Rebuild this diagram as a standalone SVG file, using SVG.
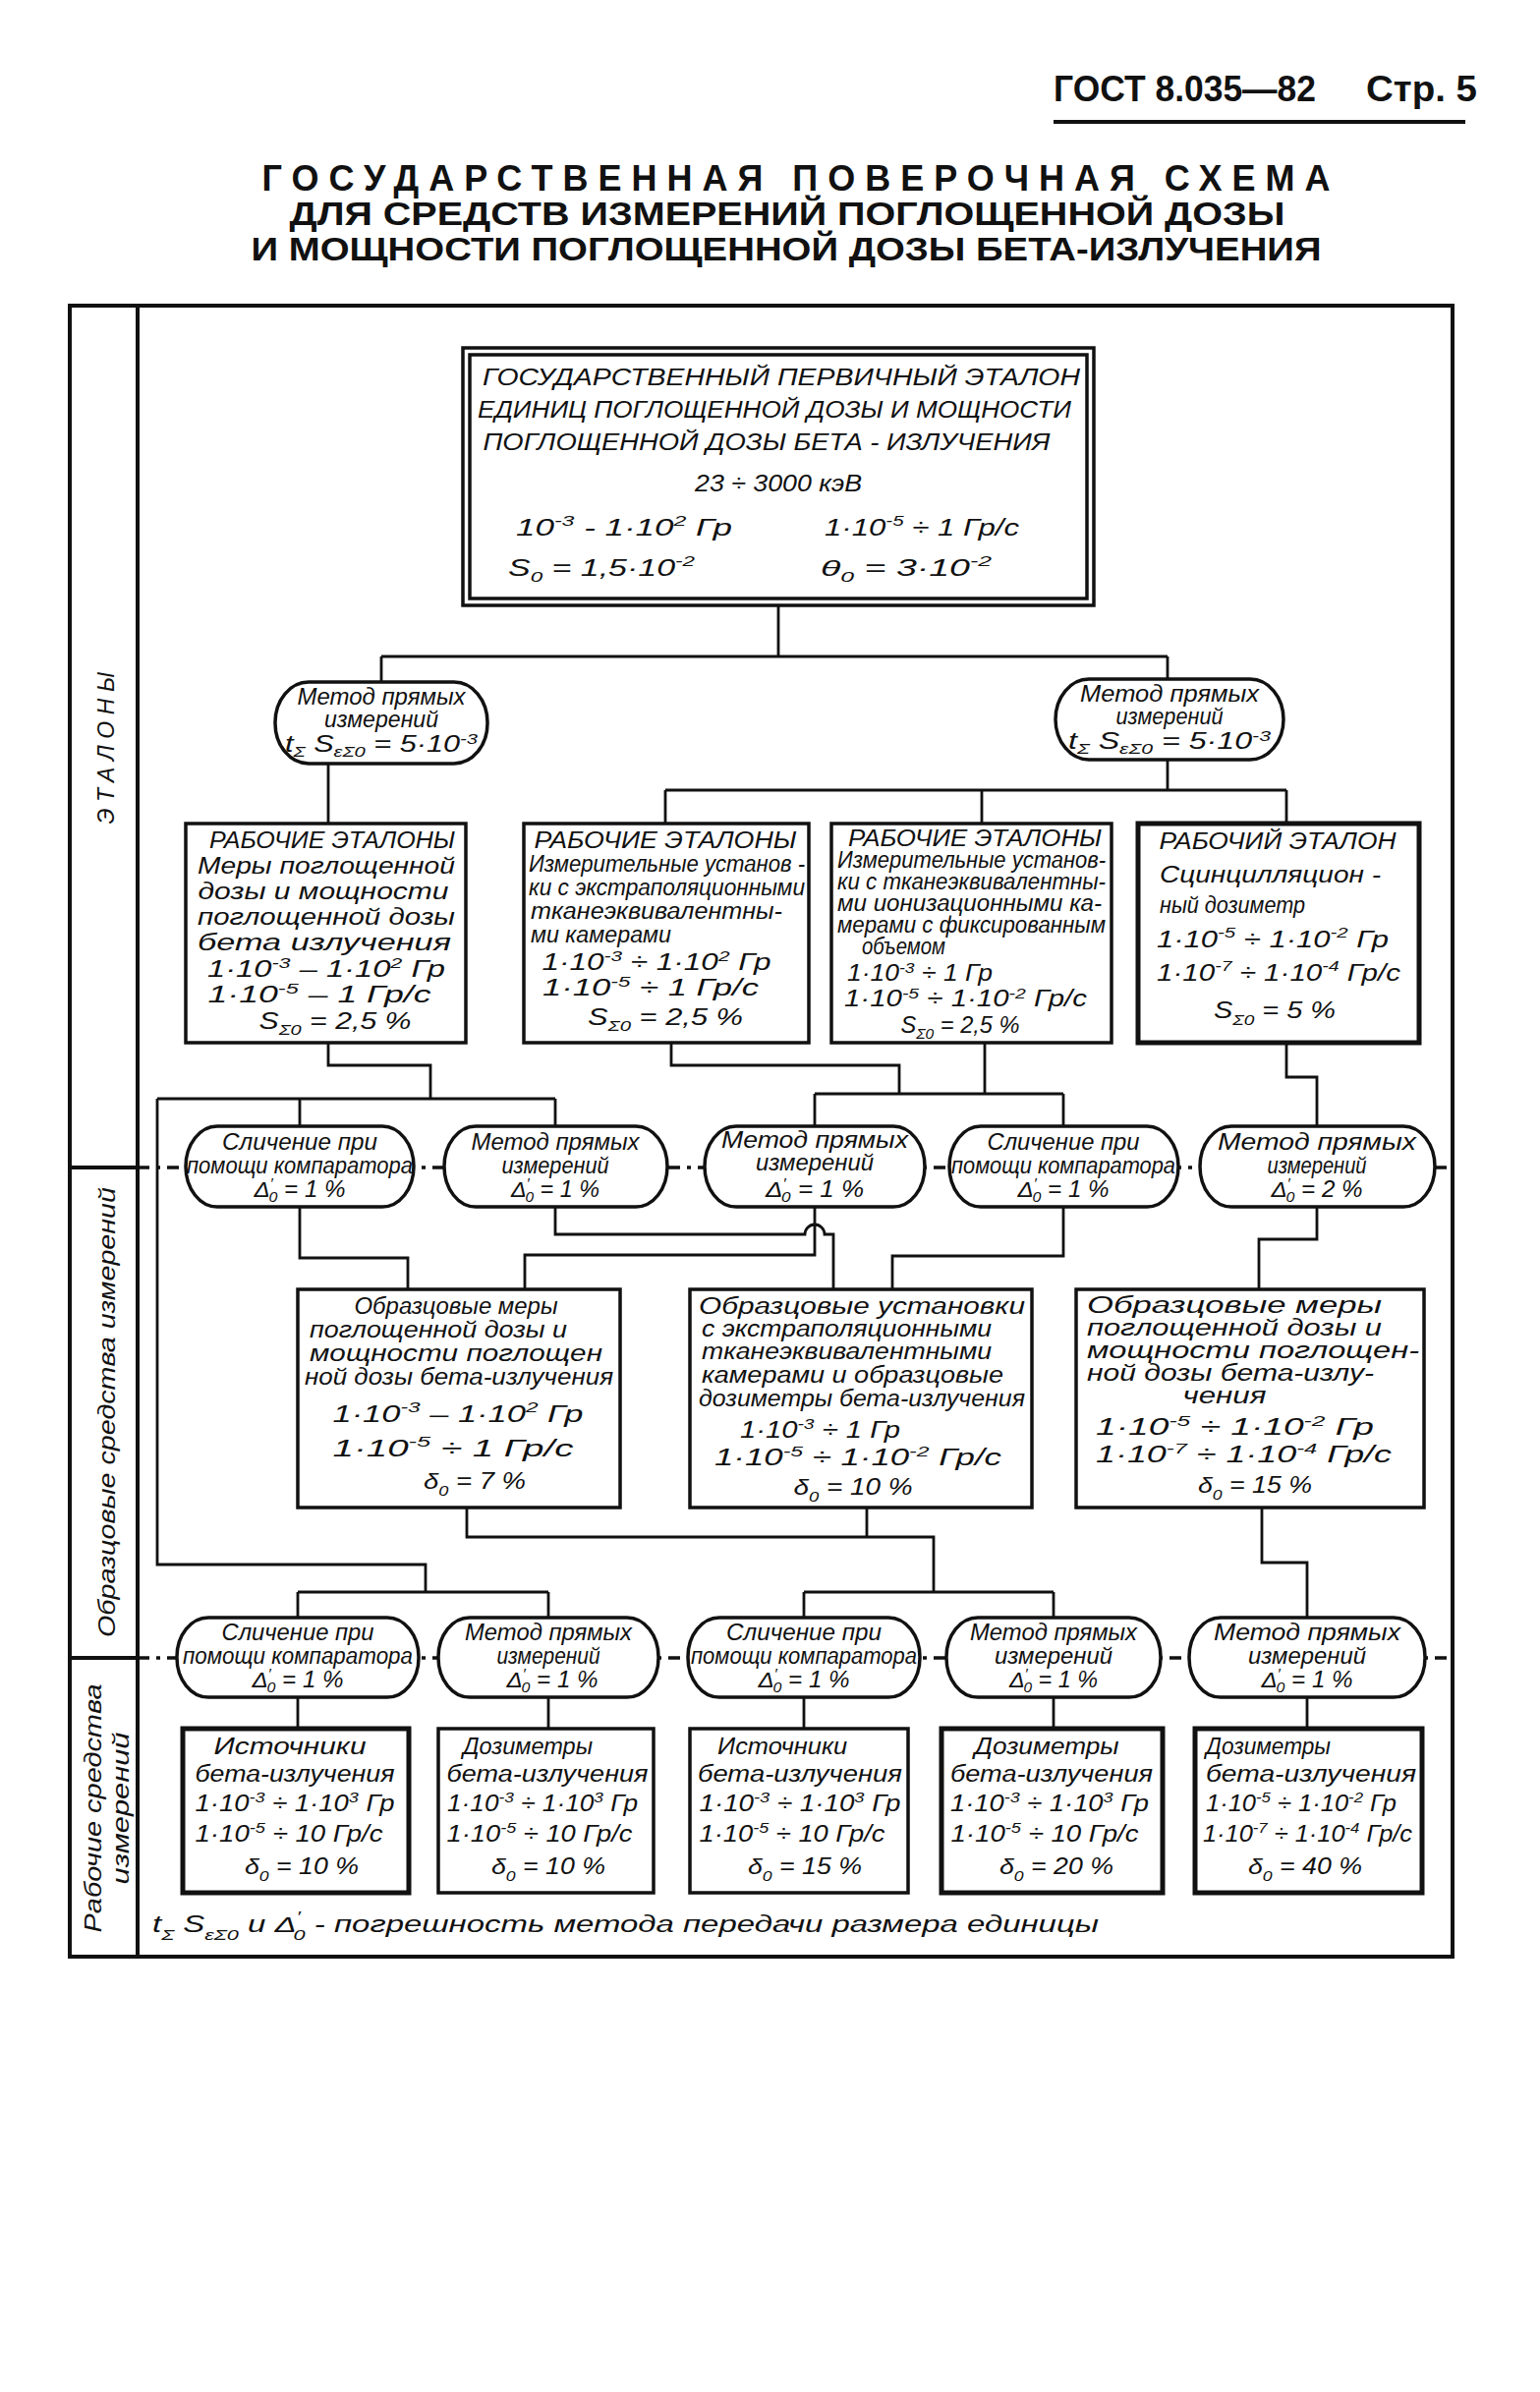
<svg xmlns="http://www.w3.org/2000/svg" width="1567" height="2434" viewBox="0 0 1567 2434">
<style>
text{font-family:"Liberation Sans",Arial,sans-serif;fill:#111}
.hd{font-weight:bold}
.t{font-style:italic;font-size:23px;text-anchor:middle}
.l{text-anchor:start}
.s{font-size:0.66em}
.fr{fill:none;stroke:#111;stroke-width:4}
.bx{fill:#fff;stroke:#111;stroke-width:3.5}
.bk{fill:#fff;stroke:#111;stroke-width:5}
.ov{fill:#fff;stroke:#111;stroke-width:3.5}
.cn{fill:none;stroke:#111;stroke-width:2.8}
.dl{fill:none;stroke:#111;stroke-width:3.5;stroke-dasharray:12 7 4 7}
</style>
<rect width="1567" height="2434" fill="#fff"/>
<g id="header">
<text x="1072" y="103" class="hd" font-size="36" textLength="267" lengthAdjust="spacingAndGlyphs">ГОСТ 8.035—82</text>
<text x="1390" y="103" class="hd" font-size="36" textLength="113" lengthAdjust="spacingAndGlyphs">Стр. 5</text>
<line x1="1072" y1="124" x2="1491" y2="124" stroke="#111" stroke-width="4"/>
<text x="810" y="194" class="hd" font-size="36" text-anchor="middle" textLength="1087" lengthAdjust="spacing">ГОСУДАРСТВЕННАЯ ПОВЕРОЧНАЯ СХЕМА</text>
<text x="801" y="229" class="hd" font-size="33" text-anchor="middle" textLength="1013" lengthAdjust="spacingAndGlyphs">ДЛЯ СРЕДСТВ ИЗМЕРЕНИЙ ПОГЛОЩЕННОЙ ДОЗЫ</text>
<text x="800" y="265" class="hd" font-size="33" text-anchor="middle" textLength="1089" lengthAdjust="spacingAndGlyphs">И МОЩНОСТИ ПОГЛОЩЕННОЙ ДОЗЫ БЕТА-ИЗЛУЧЕНИЯ</text>
</g>
<g id="frame">
<rect class="fr" x="71" y="311" width="1407" height="1680"/>
<line class="fr" x1="140" y1="311" x2="140" y2="1991"/>
<line class="fr" x1="71" y1="1188" x2="140" y2="1188"/>
<line class="fr" x1="71" y1="1687" x2="140" y2="1687"/>
<text class="t" font-size="29" transform="translate(116,761) rotate(-90)" textLength="155" lengthAdjust="spacing">ЭТАЛОНЫ</text>
<text class="t" font-size="28" transform="translate(117,1437) rotate(-90)" textLength="458" lengthAdjust="spacingAndGlyphs">Образцовые средства измерений</text>
<text class="t" font-size="25" transform="translate(103,1840) rotate(-90)" textLength="253" lengthAdjust="spacingAndGlyphs">Рабочие средства</text>
<text class="t" font-size="25" transform="translate(131,1840) rotate(-90)" textLength="155" lengthAdjust="spacingAndGlyphs">измерений</text>
</g>
<g id="connectors">
<path class="dl" d="M140,1188 H1478 M140,1687 H1478"/>
<path class="cn" d="M792,617 V668 M388,668 H1188 M388,668 V694 M1188,668 V691"/>
<path class="cn" d="M334,777 V838"/>
<path class="cn" d="M1188,773 V804 M677,804 H1309 M677,804 V838 M999,804 V838 M1309,804 V838"/>
<path class="cn" d="M334,1061 V1084 H438 V1118 M160,1118 H565 M305,1118 V1146 M565,1118 V1146"/>
<path class="cn" d="M160,1118 V1592 H433 V1620"/>
<path class="cn" d="M683,1061 V1084 H915 V1113 M1002,1061 V1113 M829,1113 H1082 M829,1113 V1146 M1082,1113 V1146"/>
<path class="cn" d="M1309,1061 V1096 H1340 V1146"/>
<path class="cn" d="M305,1228 V1280 H415 V1312"/>
<path class="cn" d="M565,1228 V1256 H819 a10,10 0 0 1 20,0 H848 V1312"/>
<path class="cn" d="M829,1228 V1277 H534 V1312"/>
<path class="cn" d="M1082,1228 V1278 H908 V1312"/>
<path class="cn" d="M1340,1228 V1261 H1281 V1312"/>
<path class="cn" d="M475,1534 V1564 H950 V1620 M882,1534 V1564 M818,1620 H1072 M818,1620 V1646 M1072,1620 V1646"/>
<path class="cn" d="M303,1620 H558 M303,1620 V1646 M558,1620 V1646"/>
<path class="cn" d="M1284,1534 V1590 H1330 V1646"/>
<path class="cn" d="M303,1727 V1759 M558,1727 V1759 M818,1727 V1759 M1072,1727 V1759 M1330,1727 V1759"/>
</g>
<g id="primary">
<rect class="bx" x="471" y="354" width="642" height="262"/>
<rect class="bx" x="478" y="361" width="628" height="248" fill="none"/>
<text class="t" x="795" y="392" font-size="29" textLength="608" lengthAdjust="spacingAndGlyphs">ГОСУДАРСТВЕННЫЙ ПЕРВИЧНЫЙ ЭТАЛОН</text>
<text class="t" x="788" y="425" font-size="29" textLength="604" lengthAdjust="spacingAndGlyphs">ЕДИНИЦ ПОГЛОЩЕННОЙ ДОЗЫ И МОЩНОСТИ</text>
<text class="t" x="780" y="458" font-size="29" textLength="577" lengthAdjust="spacingAndGlyphs">ПОГЛОЩЕННОЙ ДОЗЫ БЕТА - ИЗЛУЧЕНИЯ</text>
<text class="t" x="792" y="500" font-size="29" textLength="170" lengthAdjust="spacingAndGlyphs">23 ÷ 3000 кэВ</text>
<text class="t l" x="525" y="545" font-size="28" textLength="220" lengthAdjust="spacingAndGlyphs">10<tspan class="s" dy="-10">-3</tspan><tspan dy="10"> - 1·10</tspan><tspan class="s" dy="-10">2</tspan><tspan dy="10"> Гр</tspan></text>
<text class="t l" x="839" y="545" font-size="28" textLength="198" lengthAdjust="spacingAndGlyphs">1·10<tspan class="s" dy="-10">-5</tspan><tspan dy="10"> ÷ 1 Гр/с</tspan></text>
<text class="t l" x="517" y="586" font-size="28" textLength="190" lengthAdjust="spacingAndGlyphs">S<tspan class="s" dy="6">0</tspan><tspan dy="-6"> = 1,5·10</tspan><tspan class="s" dy="-10">-2</tspan></text>
<text class="t l" x="835" y="586" font-size="28" textLength="174" lengthAdjust="spacingAndGlyphs">θ<tspan class="s" dy="6">0</tspan><tspan dy="-6"> = 3·10</tspan><tspan class="s" dy="-10">-2</tspan></text>
</g>
<g id="m1">
<rect class="ov" x="280" y="694" width="216" height="83" rx="34" ry="41"/>
<text class="t" x="388" y="717" font-size="21" textLength="171" lengthAdjust="spacingAndGlyphs">Метод прямых</text>
<text class="t" x="388" y="740" font-size="21" textLength="116" lengthAdjust="spacingAndGlyphs">измерений</text>
<text class="t" x="388" y="765" font-size="21" textLength="196" lengthAdjust="spacingAndGlyphs">t<tspan class="s" dy="5">Σ</tspan><tspan dy="-5"> S</tspan><tspan class="s" dy="5">εΣ0</tspan><tspan dy="-5"> = 5·10</tspan><tspan class="s" dy="-8">-3</tspan></text>
</g>
<g id="m2">
<rect class="ov" x="1074" y="691" width="232" height="82" rx="34" ry="41"/>
<text class="t" x="1190" y="714" font-size="21" textLength="182" lengthAdjust="spacingAndGlyphs">Метод прямых</text>
<text class="t" x="1190" y="737" font-size="21" textLength="109" lengthAdjust="spacingAndGlyphs">измерений</text>
<text class="t" x="1190" y="762" font-size="21" textLength="206" lengthAdjust="spacingAndGlyphs">t<tspan class="s" dy="5">Σ</tspan><tspan dy="-5"> S</tspan><tspan class="s" dy="5">εΣ0</tspan><tspan dy="-5"> = 5·10</tspan><tspan class="s" dy="-8">-3</tspan></text>
</g>
<g id="b1">
<rect class="bx" x="189" y="838" width="285" height="223"/>
<text class="t" x="338" y="863" textLength="250" lengthAdjust="spacingAndGlyphs">РАБОЧИЕ ЭТАЛОНЫ</text>
<text class="t" x="332" y="889" textLength="262" lengthAdjust="spacingAndGlyphs">Меры поглощенной</text>
<text class="t" x="329" y="915" textLength="255" lengthAdjust="spacingAndGlyphs">дозы и мощности</text>
<text class="t" x="332" y="941" textLength="262" lengthAdjust="spacingAndGlyphs">поглощенной дозы</text>
<text class="t" x="330" y="967" textLength="258" lengthAdjust="spacingAndGlyphs">бета излучения</text>
<text class="t" x="332" y="994" textLength="242" lengthAdjust="spacingAndGlyphs">1·10<tspan class="s" dy="-9">-3</tspan><tspan dy="9"> – 1·10</tspan><tspan class="s" dy="-9">2</tspan><tspan dy="9"> Гр</tspan></text>
<text class="t" x="325" y="1020" textLength="227" lengthAdjust="spacingAndGlyphs">1·10<tspan class="s" dy="-9">-5</tspan><tspan dy="9"> – 1 Гр/с</tspan></text>
<text class="t" x="341" y="1047" textLength="155" lengthAdjust="spacingAndGlyphs">S<tspan class="s" dy="6">Σ0</tspan><tspan dy="-6"> = 2,5 %</tspan></text>
</g>
<g id="b2">
<rect class="bx" x="533" y="838" width="290" height="223"/>
<text class="t" x="677" y="863" textLength="267" lengthAdjust="spacingAndGlyphs">РАБОЧИЕ ЭТАЛОНЫ</text>
<text class="t l" x="538" y="887" font-size="21" textLength="281" lengthAdjust="spacingAndGlyphs">Измерительные установ -</text>
<text class="t l" x="538" y="911" font-size="21" textLength="281" lengthAdjust="spacingAndGlyphs">ки с экстраполяционными</text>
<text class="t l" x="540" y="935" font-size="21" textLength="256" lengthAdjust="spacingAndGlyphs">тканеэквивалентны-</text>
<text class="t l" x="540" y="959" font-size="21" textLength="143" lengthAdjust="spacingAndGlyphs">ми камерами</text>
<text class="t" x="668" y="987" textLength="233" lengthAdjust="spacingAndGlyphs">1·10<tspan class="s" dy="-9">-3</tspan><tspan dy="9"> ÷ 1·10</tspan><tspan class="s" dy="-9">2</tspan><tspan dy="9"> Гр</tspan></text>
<text class="t" x="662" y="1013" textLength="220" lengthAdjust="spacingAndGlyphs">1·10<tspan class="s" dy="-9">-5</tspan><tspan dy="9"> ÷ 1 Гр/с</tspan></text>
<text class="t" x="677" y="1043" textLength="158" lengthAdjust="spacingAndGlyphs">S<tspan class="s" dy="6">Σ0</tspan><tspan dy="-6"> = 2,5 %</tspan></text>
</g>
<g id="b3">
<rect class="bx" x="846" y="838" width="285" height="223"/>
<text class="t" x="992" y="861" font-size="22" textLength="258" lengthAdjust="spacingAndGlyphs">РАБОЧИЕ ЭТАЛОНЫ</text>
<text class="t l" x="852" y="883" font-size="18" textLength="273" lengthAdjust="spacingAndGlyphs">Измерительные установ-</text>
<text class="t l" x="852" y="905" font-size="18" textLength="273" lengthAdjust="spacingAndGlyphs">ки с тканеэквивалентны-</text>
<text class="t l" x="852" y="927" font-size="18" textLength="269" lengthAdjust="spacingAndGlyphs">ми ионизационными ка-</text>
<text class="t l" x="852" y="949" font-size="18" textLength="273" lengthAdjust="spacingAndGlyphs">мерами с фиксированным</text>
<text class="t l" x="877" y="971" font-size="17" textLength="85" lengthAdjust="spacingAndGlyphs">объемом</text>
<text class="t l" x="862" y="998" font-size="22" textLength="148" lengthAdjust="spacingAndGlyphs">1·10<tspan class="s" dy="-8">-3</tspan><tspan dy="8"> ÷ 1 Гр</tspan></text>
<text class="t l" x="859" y="1024" font-size="22" textLength="247" lengthAdjust="spacingAndGlyphs">1·10<tspan class="s" dy="-8">-5</tspan><tspan dy="8"> ÷ 1·10</tspan><tspan class="s" dy="-8">-2</tspan><tspan dy="8"> Гр/с</tspan></text>
<text class="t" x="977" y="1051" font-size="22" textLength="121" lengthAdjust="spacingAndGlyphs">S<tspan class="s" dy="6">Σ0</tspan><tspan dy="-6"> = 2,5 %</tspan></text>
</g>
<g id="b4">
<rect class="bk" x="1158" y="838" width="286" height="223"/>
<text class="t" x="1300" y="864" font-size="27" textLength="241" lengthAdjust="spacingAndGlyphs">РАБОЧИЙ ЭТАЛОН</text>
<text class="t l" x="1180" y="898" font-size="27" textLength="225" lengthAdjust="spacingAndGlyphs">Сцинцилляцион -</text>
<text class="t l" x="1180" y="929" font-size="27" textLength="148" lengthAdjust="spacingAndGlyphs">ный дозиметр</text>
<text class="t l" x="1177" y="964" font-size="26" textLength="236" lengthAdjust="spacingAndGlyphs">1·10<tspan class="s" dy="-10">-5</tspan><tspan dy="10"> ÷ 1·10</tspan><tspan class="s" dy="-10">-2</tspan><tspan dy="10"> Гр</tspan></text>
<text class="t l" x="1177" y="998" font-size="26" textLength="248" lengthAdjust="spacingAndGlyphs">1·10<tspan class="s" dy="-10">-7</tspan><tspan dy="10"> ÷ 1·10</tspan><tspan class="s" dy="-10">-4</tspan><tspan dy="10"> Гр/с</tspan></text>
<text class="t" x="1297" y="1036" font-size="26" textLength="124" lengthAdjust="spacingAndGlyphs">S<tspan class="s" dy="7">Σ0</tspan><tspan dy="-7"> = 5 %</tspan></text>
</g>
<g id="c1">
<rect class="ov" x="189" y="1146" width="232" height="82" rx="32" ry="41"/>
<text class="t" x="305" y="1170" font-size="21" textLength="158" lengthAdjust="spacingAndGlyphs">Сличение при</text>
<text class="t" x="305" y="1194" font-size="21" textLength="230" lengthAdjust="spacingAndGlyphs">помощи компаратора</text>
<text class="t" x="305" y="1218" font-size="23" textLength="93" lengthAdjust="spacingAndGlyphs">Δ<tspan class="s" dy="-9">′</tspan><tspan class="s" dx="-4" dy="14">0</tspan><tspan dy="-5"> = 1 %</tspan></text>
</g>
<g id="c2">
<rect class="ov" x="452" y="1146" width="227" height="82" rx="32" ry="41"/>
<text class="t" x="565" y="1170" font-size="21" textLength="171" lengthAdjust="spacingAndGlyphs">Метод прямых</text>
<text class="t" x="565" y="1194" font-size="21" textLength="109" lengthAdjust="spacingAndGlyphs">измерений</text>
<text class="t" x="565" y="1218" font-size="23" textLength="90" lengthAdjust="spacingAndGlyphs">Δ<tspan class="s" dy="-9">′</tspan><tspan class="s" dx="-4" dy="14">0</tspan><tspan dy="-5"> = 1 %</tspan></text>
</g>
<g id="c3">
<rect class="ov" x="717" y="1146" width="224" height="82" rx="32" ry="41"/>
<text class="t" x="829" y="1168" font-size="22" textLength="190" lengthAdjust="spacingAndGlyphs">Метод прямых</text>
<text class="t" x="829" y="1191" font-size="22" textLength="120" lengthAdjust="spacingAndGlyphs">измерений</text>
<text class="t" x="829" y="1218" font-size="25" textLength="100" lengthAdjust="spacingAndGlyphs">Δ<tspan class="s" dy="-9">′</tspan><tspan class="s" dx="-4" dy="14">0</tspan><tspan dy="-5"> = 1 %</tspan></text>
</g>
<g id="c4">
<rect class="ov" x="966" y="1146" width="233" height="82" rx="32" ry="41"/>
<text class="t" x="1082" y="1170" font-size="21" textLength="155" lengthAdjust="spacingAndGlyphs">Сличение при</text>
<text class="t" x="1082" y="1194" font-size="21" textLength="228" lengthAdjust="spacingAndGlyphs">помощи компаратора</text>
<text class="t" x="1082" y="1218" font-size="23" textLength="93" lengthAdjust="spacingAndGlyphs">Δ<tspan class="s" dy="-9">′</tspan><tspan class="s" dx="-4" dy="14">0</tspan><tspan dy="-5"> = 1 %</tspan></text>
</g>
<g id="c5">
<rect class="ov" x="1221" y="1146" width="239" height="82" rx="32" ry="41"/>
<text class="t" x="1340" y="1170" font-size="22" textLength="202" lengthAdjust="spacingAndGlyphs">Метод прямых</text>
<text class="t" x="1340" y="1194" font-size="22" textLength="101" lengthAdjust="spacingAndGlyphs">измерений</text>
<text class="t" x="1340" y="1218" font-size="23" textLength="93" lengthAdjust="spacingAndGlyphs">Δ<tspan class="s" dy="-9">′</tspan><tspan class="s" dx="-4" dy="14">0</tspan><tspan dy="-5"> = 2 %</tspan></text>
</g>
<g id="d1">
<rect class="bx" x="303" y="1312" width="328" height="222"/>
<text class="t" x="464" y="1337" font-size="22" textLength="207" lengthAdjust="spacingAndGlyphs">Образцовые меры</text>
<text class="t" x="446" y="1361" font-size="22" textLength="262" lengthAdjust="spacingAndGlyphs">поглощенной дозы и</text>
<text class="t" x="464" y="1385" font-size="22" textLength="298" lengthAdjust="spacingAndGlyphs">мощности поглощен</text>
<text class="t" x="467" y="1409" font-size="22" textLength="314" lengthAdjust="spacingAndGlyphs">ной дозы бета-излучения</text>
<text class="t" x="466" y="1447" font-size="26" textLength="255" lengthAdjust="spacingAndGlyphs">1·10<tspan class="s" dy="-10">-3</tspan><tspan dy="10"> – 1·10</tspan><tspan class="s" dy="-10">2</tspan><tspan dy="10"> Гр</tspan></text>
<text class="t" x="461" y="1482" font-size="26" textLength="245" lengthAdjust="spacingAndGlyphs">1·10<tspan class="s" dy="-10">-5</tspan><tspan dy="10"> ÷ 1 Гр/с</tspan></text>
<text class="t" x="483" y="1515" font-size="26" textLength="104" lengthAdjust="spacingAndGlyphs">δ<tspan class="s" dy="7">0</tspan><tspan dy="-7"> = 7 %</tspan></text>
</g>
<g id="d2">
<rect class="bx" x="702" y="1312" width="348" height="222"/>
<text class="t" x="877" y="1337" font-size="22" textLength="332" lengthAdjust="spacingAndGlyphs">Образцовые установки</text>
<text class="t l" x="714" y="1360" font-size="21" textLength="295" lengthAdjust="spacingAndGlyphs">с экстраполяционными</text>
<text class="t l" x="714" y="1383" font-size="21" textLength="295" lengthAdjust="spacingAndGlyphs">тканеэквивалентными</text>
<text class="t l" x="714" y="1407" font-size="21" textLength="307" lengthAdjust="spacingAndGlyphs">камерами и образцовые</text>
<text class="t l" x="711" y="1431" font-size="21" textLength="332" lengthAdjust="spacingAndGlyphs">дозиметры бета-излучения</text>
<text class="t l" x="753" y="1463" font-size="25" textLength="163" lengthAdjust="spacingAndGlyphs">1·10<tspan class="s" dy="-9">-3</tspan><tspan dy="9"> ÷ 1 Гр</tspan></text>
<text class="t l" x="727" y="1491" font-size="25" textLength="292" lengthAdjust="spacingAndGlyphs">1·10<tspan class="s" dy="-9">-5</tspan><tspan dy="9">   ÷ 1·10</tspan><tspan class="s" dy="-9">-2</tspan><tspan dy="9"> Гр/с</tspan></text>
<text class="t" x="868" y="1521" font-size="25" textLength="121" lengthAdjust="spacingAndGlyphs">δ<tspan class="s" dy="7">0</tspan><tspan dy="-7"> = 10 %</tspan></text>
</g>
<g id="d3">
<rect class="bx" x="1095" y="1312" width="354" height="222"/>
<text class="t l" x="1106" y="1336" font-size="21" textLength="300" lengthAdjust="spacingAndGlyphs">Образцовые  меры</text>
<text class="t l" x="1106" y="1359" font-size="21" textLength="300" lengthAdjust="spacingAndGlyphs">поглощенной дозы и</text>
<text class="t l" x="1106" y="1382" font-size="21" textLength="338" lengthAdjust="spacingAndGlyphs">мощности поглощен-</text>
<text class="t l" x="1106" y="1405" font-size="21" textLength="292" lengthAdjust="spacingAndGlyphs">ной дозы бета-излу-</text>
<text class="t" x="1246" y="1428" font-size="21" textLength="85" lengthAdjust="spacingAndGlyphs">чения</text>
<text class="t l" x="1115" y="1460" font-size="25" textLength="283" lengthAdjust="spacingAndGlyphs">1·10<tspan class="s" dy="-9">-5</tspan><tspan dy="9"> ÷ 1·10</tspan><tspan class="s" dy="-9">-2</tspan><tspan dy="9"> Гр</tspan></text>
<text class="t l" x="1115" y="1488" font-size="25" textLength="301" lengthAdjust="spacingAndGlyphs">1·10<tspan class="s" dy="-9">-7</tspan><tspan dy="9"> ÷ 1·10</tspan><tspan class="s" dy="-9">-4</tspan><tspan dy="9"> Гр/с</tspan></text>
<text class="t" x="1277" y="1519" font-size="25" textLength="116" lengthAdjust="spacingAndGlyphs">δ<tspan class="s" dy="7">0</tspan><tspan dy="-7"> = 15 %</tspan></text>
</g>
<g id="e1">
<rect class="ov" x="180" y="1646" width="246" height="81" rx="32" ry="40"/>
<text class="t" x="303" y="1669" font-size="21" textLength="155" lengthAdjust="spacingAndGlyphs">Сличение при</text>
<text class="t" x="303" y="1693" font-size="21" textLength="234" lengthAdjust="spacingAndGlyphs">помощи компаратора</text>
<text class="t" x="303" y="1717" font-size="23" textLength="93" lengthAdjust="spacingAndGlyphs">Δ<tspan class="s" dy="-9">′</tspan><tspan class="s" dx="-4" dy="14">0</tspan><tspan dy="-5"> = 1 %</tspan></text>
</g>
<g id="e2">
<rect class="ov" x="446" y="1646" width="224" height="81" rx="32" ry="40"/>
<text class="t" x="558" y="1669" font-size="21" textLength="170" lengthAdjust="spacingAndGlyphs">Метод прямых</text>
<text class="t" x="558" y="1693" font-size="21" textLength="105" lengthAdjust="spacingAndGlyphs">измерений</text>
<text class="t" x="562" y="1717" font-size="23" textLength="93" lengthAdjust="spacingAndGlyphs">Δ<tspan class="s" dy="-9">′</tspan><tspan class="s" dx="-4" dy="14">0</tspan><tspan dy="-5"> = 1 %</tspan></text>
</g>
<g id="e3">
<rect class="ov" x="700" y="1646" width="236" height="81" rx="32" ry="40"/>
<text class="t" x="818" y="1669" font-size="21" textLength="158" lengthAdjust="spacingAndGlyphs">Сличение при</text>
<text class="t" x="818" y="1693" font-size="21" textLength="230" lengthAdjust="spacingAndGlyphs">помощи компаратора</text>
<text class="t" x="818" y="1717" font-size="23" textLength="93" lengthAdjust="spacingAndGlyphs">Δ<tspan class="s" dy="-9">′</tspan><tspan class="s" dx="-4" dy="14">0</tspan><tspan dy="-5"> = 1 %</tspan></text>
</g>
<g id="e4">
<rect class="ov" x="963" y="1646" width="218" height="81" rx="32" ry="40"/>
<text class="t" x="1072" y="1669" font-size="21" textLength="170" lengthAdjust="spacingAndGlyphs">Метод прямых</text>
<text class="t" x="1072" y="1693" font-size="21" textLength="120" lengthAdjust="spacingAndGlyphs">измерений</text>
<text class="t" x="1072" y="1717" font-size="23" textLength="90" lengthAdjust="spacingAndGlyphs">Δ<tspan class="s" dy="-9">′</tspan><tspan class="s" dx="-4" dy="14">0</tspan><tspan dy="-5"> = 1 %</tspan></text>
</g>
<g id="e5">
<rect class="ov" x="1210" y="1646" width="240" height="81" rx="32" ry="40"/>
<text class="t" x="1330" y="1669" font-size="21" textLength="190" lengthAdjust="spacingAndGlyphs">Метод прямых</text>
<text class="t" x="1330" y="1693" font-size="21" textLength="120" lengthAdjust="spacingAndGlyphs">измерений</text>
<text class="t" x="1330" y="1717" font-size="23" textLength="93" lengthAdjust="spacingAndGlyphs">Δ<tspan class="s" dy="-9">′</tspan><tspan class="s" dx="-4" dy="14">0</tspan><tspan dy="-5"> = 1 %</tspan></text>
</g>
<g id="f1">
<rect class="bk" x="186" y="1759" width="230" height="167"/>
<text class="t" x="295" y="1785" font-size="25" textLength="155" lengthAdjust="spacingAndGlyphs">Источники</text>
<text class="t" x="300" y="1813" font-size="25" textLength="203" lengthAdjust="spacingAndGlyphs">бета-излучения</text>
<text class="t" x="300" y="1843" font-size="25" textLength="203" lengthAdjust="spacingAndGlyphs">1·10<tspan class="s" dy="-9">-3</tspan><tspan dy="9"> ÷ 1·10</tspan><tspan class="s" dy="-9">3</tspan><tspan dy="9"> Гр</tspan></text>
<text class="t" x="294" y="1874" font-size="25" textLength="191" lengthAdjust="spacingAndGlyphs">1·10<tspan class="s" dy="-9">-5</tspan><tspan dy="9"> ÷ 10 Гр/с</tspan></text>
<text class="t" x="307" y="1907" font-size="25" textLength="116" lengthAdjust="spacingAndGlyphs">δ<tspan class="s" dy="7">0</tspan><tspan dy="-7"> = 10 %</tspan></text>
</g>
<g id="f2">
<rect class="bx" x="446" y="1759" width="219" height="167"/>
<text class="t" x="537" y="1785" font-size="25" textLength="132" lengthAdjust="spacingAndGlyphs">Дозиметры</text>
<text class="t" x="557" y="1813" font-size="25" textLength="205" lengthAdjust="spacingAndGlyphs">бета-излучения</text>
<text class="t" x="552" y="1843" font-size="25" textLength="194" lengthAdjust="spacingAndGlyphs">1·10<tspan class="s" dy="-9">-3</tspan><tspan dy="9"> ÷ 1·10</tspan><tspan class="s" dy="-9">3</tspan><tspan dy="9"> Гр</tspan></text>
<text class="t" x="549" y="1874" font-size="25" textLength="189" lengthAdjust="spacingAndGlyphs">1·10<tspan class="s" dy="-9">-5</tspan><tspan dy="9"> ÷ 10 Гр/с</tspan></text>
<text class="t" x="558" y="1907" font-size="25" textLength="116" lengthAdjust="spacingAndGlyphs">δ<tspan class="s" dy="7">0</tspan><tspan dy="-7"> = 10 %</tspan></text>
</g>
<g id="f3">
<rect class="bx" x="702" y="1759" width="222" height="167"/>
<text class="t" x="796" y="1785" font-size="25" textLength="132" lengthAdjust="spacingAndGlyphs">Источники</text>
<text class="t" x="814" y="1813" font-size="25" textLength="208" lengthAdjust="spacingAndGlyphs">бета-излучения</text>
<text class="t" x="814" y="1843" font-size="25" textLength="205" lengthAdjust="spacingAndGlyphs">1·10<tspan class="s" dy="-9">-3</tspan><tspan dy="9"> ÷ 1·10</tspan><tspan class="s" dy="-9">3</tspan><tspan dy="9"> Гр</tspan></text>
<text class="t" x="806" y="1874" font-size="25" textLength="189" lengthAdjust="spacingAndGlyphs">1·10<tspan class="s" dy="-9">-5</tspan><tspan dy="9"> ÷ 10 Гр/с</tspan></text>
<text class="t" x="819" y="1907" font-size="25" textLength="116" lengthAdjust="spacingAndGlyphs">δ<tspan class="s" dy="7">0</tspan><tspan dy="-7"> = 15 %</tspan></text>
</g>
<g id="f4">
<rect class="bk" x="958" y="1759" width="225" height="167"/>
<text class="t" x="1065" y="1785" font-size="25" textLength="147" lengthAdjust="spacingAndGlyphs">Дозиметры</text>
<text class="t" x="1070" y="1813" font-size="25" textLength="206" lengthAdjust="spacingAndGlyphs">бета-излучения</text>
<text class="t" x="1068" y="1843" font-size="25" textLength="202" lengthAdjust="spacingAndGlyphs">1·10<tspan class="s" dy="-9">-3</tspan><tspan dy="9"> ÷ 1·10</tspan><tspan class="s" dy="-9">3</tspan><tspan dy="9"> Гр</tspan></text>
<text class="t" x="1063" y="1874" font-size="25" textLength="191" lengthAdjust="spacingAndGlyphs">1·10<tspan class="s" dy="-9">-5</tspan><tspan dy="9"> ÷ 10 Гр/с</tspan></text>
<text class="t" x="1075" y="1907" font-size="25" textLength="116" lengthAdjust="spacingAndGlyphs">δ<tspan class="s" dy="7">0</tspan><tspan dy="-7"> = 20 %</tspan></text>
</g>
<g id="f5">
<rect class="bk" x="1216" y="1759" width="231" height="167"/>
<text class="t l" x="1227" y="1785" font-size="25" textLength="127" lengthAdjust="spacingAndGlyphs">Дозиметры</text>
<text class="t l" x="1227" y="1813" font-size="25" textLength="214" lengthAdjust="spacingAndGlyphs">бета-излучения</text>
<text class="t l" x="1227" y="1843" font-size="25" textLength="194" lengthAdjust="spacingAndGlyphs">1·10<tspan class="s" dy="-9">-5</tspan><tspan dy="9"> ÷ 1·10</tspan><tspan class="s" dy="-9">-2</tspan><tspan dy="9"> Гр</tspan></text>
<text class="t l" x="1224" y="1874" font-size="25" textLength="213" lengthAdjust="spacingAndGlyphs">1·10<tspan class="s" dy="-9">-7</tspan><tspan dy="9"> ÷ 1·10</tspan><tspan class="s" dy="-9">-4</tspan><tspan dy="9"> Гр/с</tspan></text>
<text class="t" x="1328" y="1907" font-size="25" textLength="116" lengthAdjust="spacingAndGlyphs">δ<tspan class="s" dy="7">0</tspan><tspan dy="-7"> = 40 %</tspan></text>
</g>
<g id="footer">
<text class="t l" x="155" y="1966" font-size="28" textLength="963" lengthAdjust="spacingAndGlyphs">t<tspan class="s" dy="8">Σ</tspan><tspan dy="-8"> S</tspan><tspan class="s" dy="8">εΣ0</tspan><tspan dy="-8"> и Δ</tspan><tspan class="s" dy="-11">′</tspan><tspan class="s" dx="-5" dy="19">0</tspan><tspan dy="-8"> - погрешность метода передачи размера единицы</tspan></text>
</g>
</svg>
